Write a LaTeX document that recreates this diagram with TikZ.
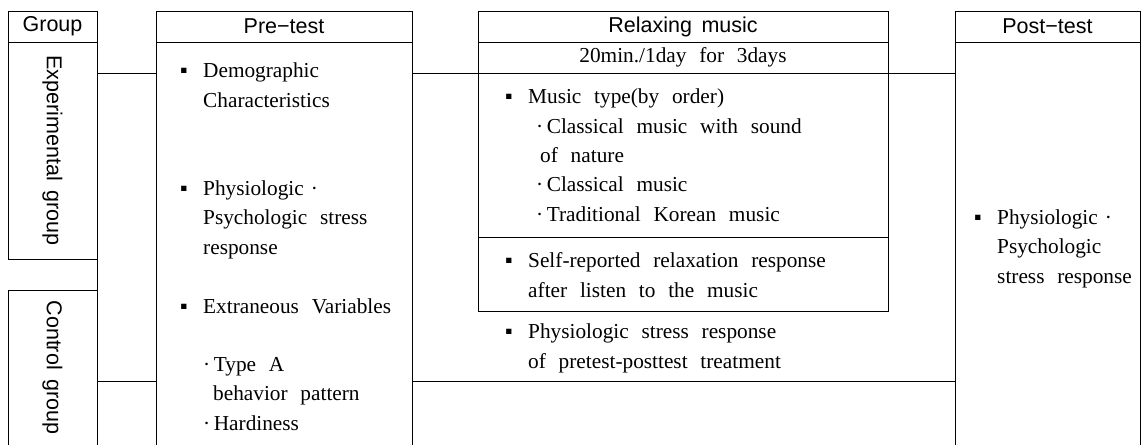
\documentclass[tikz,border=0pt]{standalone}
\usepackage{fontspec}
\setmainfont[WordSpace=2.4]{Liberation Serif}
\setsansfont[WordSpace=1.6]{Liberation Sans}

\tikzset{
  cellbox/.style={draw,line width=1pt,inner sep=0pt,outer sep=0pt},
  hdbox/.style={cellbox,font=\sffamily\fontsize{21.5}{24}\selectfont},
  hdtxt/.style={inner sep=0pt,font=\sffamily\fontsize{21.5}{24}\selectfont},
  openbox/.style={inner sep=0pt,outer sep=0pt},
  itemtxt/.style={inner sep=0pt,anchor=base west,align=left,font=\fontsize{21.3}{29.3}\selectfont},
  link/.style={line width=1pt},
}
\newcommand{\sqbul}{\makebox[23pt][l]{▪}}
\newcommand{\ind}[1]{\hspace*{#1}}

\begin{document}
\begin{tikzpicture}[x=1pt,y=-1pt]
\useasboundingbox (0,0) rectangle (1145,445);
\node[hdbox,minimum width=89,minimum height=31] (grp) at (52.5,26.5) {Group};
\node[cellbox,minimum width=89,minimum height=217] (expg) at (52.5,150.5) {};
\node[hdtxt,rotate=-90] (explbl) at (expg.center) {Experimental group};
\node[openbox,minimum width=89,minimum height=155] (ctlg) at (52.5,367.5) {};
\node[hdtxt,rotate=-90] (ctllbl) at (ctlg.center) {Control group};
\draw[link] (ctlg.south west) |- (ctlg.north east) -- (ctlg.south east);
\draw[link] (expg.south east) -- (ctlg.north east);

\node[hdbox,minimum width=256,minimum height=31] (prehd) at (284,26.5) {Pre−test};
\node[openbox,minimum width=256,minimum height=403] (prebd) at (284,243.5) {};
\draw[link] (prebd.north west) -- (prebd.south west) (prebd.north east) -- (prebd.south east);
% multi-line items sit on the baseline of their last line
\node[itemtxt] (demo) at (180,107) {\sqbul Demographic\\\ind{23pt}Characteristics};
\node[itemtxt] (prephys) at (180,254) {\sqbul Physiologic\,\,·\\\ind{23pt}Psychologic stress\\\ind{23pt}response};
\node[itemtxt] (extra) at (180,313) {\sqbul Extraneous Variables};
\node[itemtxt] (typea) at (203,430) {·\,Type A\\\ind{10pt}behavior pattern\\·\,Hardiness};

\node[hdbox,minimum width=410,minimum height=31] (relhd) at (683,26.5) {Relaxing music};
\node[cellbox,minimum width=410,minimum height=31,font=\fontsize{21.3}{24}\selectfont] (dose) at (683,57.5) {20min./1day for 3days};
\node[cellbox,minimum width=410,minimum height=164] (mtype) at (683,155) {};
\node[cellbox,minimum width=410,minimum height=74] (selfr) at (683,274) {};
\node[itemtxt] (mtxt) at (505,221) {\sqbul Music type(by order)\\\ind{31pt}·\,Classical music with sound\\\ind{35pt}of nature\\\ind{31pt}·\,Classical music\\\ind{31pt}·\,Traditional Korean music};
\node[itemtxt] (stxt) at (505,297) {\sqbul Self-reported relaxation response\\\ind{23pt}after listen to the music};
\node[itemtxt] (ptxt) at (505,368) {\sqbul Physiologic stress response\\\ind{23pt}of pretest-posttest treatment};

\node[hdbox,minimum width=185,minimum height=31] (posthd) at (1047.5,26.5) {Post−test};
\node[openbox,minimum width=185,minimum height=403] (postbd) at (1047.5,243.5) {};
\draw[link] (postbd.north west) -- (postbd.south west) (postbd.north east) -- (postbd.south east);
\node[itemtxt] (posttxt) at (974,283) {\sqbul Physiologic\,\,·\\\ind{23pt}Psychologic\\\ind{23pt}stress response};

\coordinate (exprow) at (0,73);
\coordinate (ctlrow) at (0,381);
\draw[link] (expg.east |- exprow) -- (prebd.west |- exprow);
\draw[link] (prebd.east |- exprow) -- (mtype.north west);
\draw[link] (mtype.north east) -- (postbd.west |- exprow);
\draw[link] (ctlg.east |- ctlrow) -- (prebd.west |- ctlrow);
\draw[link] (prebd.east |- ctlrow) -- (postbd.west |- ctlrow);
\end{tikzpicture}
\end{document}
